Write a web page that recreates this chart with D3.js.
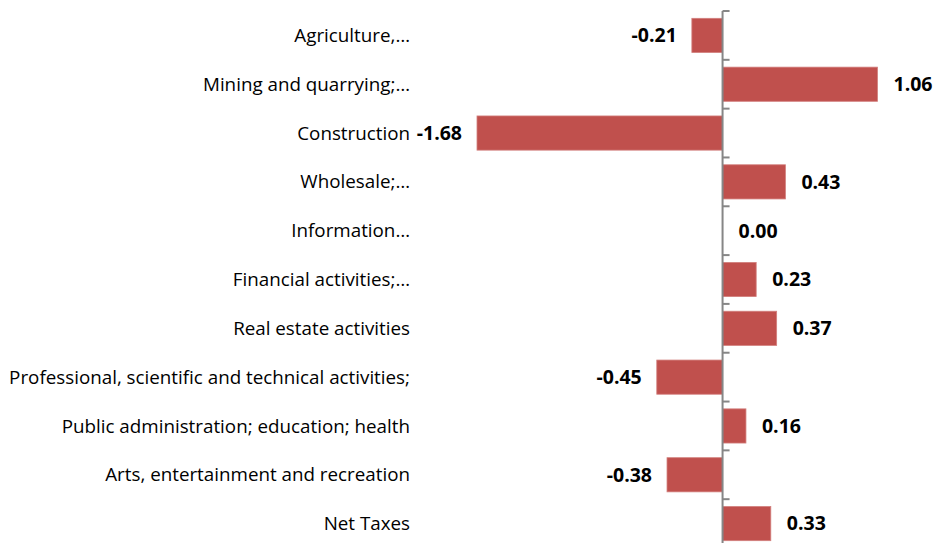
<!DOCTYPE html>
<html><head><meta charset="utf-8">
<script src="https://cdn.jsdelivr.net/npm/d3@7"></script>
<style>body{margin:0;background:#fff}svg{display:block}</style>
</head><body>
<script>
const categories = ["Agriculture,…","Mining and quarrying;…","Construction","Wholesale;…","Information…","Financial activities;…","Real estate activities","Professional, scientific and technical activities;","Public administration; education; health","Arts, entertainment and recreation","Net Taxes"];
const values = [-0.21,1.06,-1.68,0.43,0.00,0.23,0.37,-0.45,0.16,-0.38,0.33];

const W=935,H=543;
const svg=d3.select("body").append("svg").attr("width",W).attr("height",H);
const x=d3.scaleLinear().domain([-1.68,1.06]).range([477,877.5]);
const y=d3.scaleBand().domain(categories).range([11,548]).paddingInner(0.3).paddingOuter(0.15);
const font="'Open Sans', sans-serif";

svg.selectAll("rect.bar").data(values).join("rect").attr("class","bar")
  .attr("x",d=>x(Math.min(0,d))).attr("width",d=>Math.abs(x(d)-x(0)))
  .attr("y",(d,i)=>y(categories[i])).attr("height",y.bandwidth())
  .attr("fill","#C0504D").attr("stroke","#D27F7D").attr("stroke-width",0.8);

// axis
const x0=x(0);
const axis=d3.axisRight(y).tickSize(0).tickFormat("");
const ag=svg.append("g").attr("transform",`translate(${x0},0)`).call(axis);
ag.select(".domain").attr("stroke","#868686").attr("stroke-width",2).attr("d",`M0,11V${H}`);
const bounds=d3.range(categories.length).map(i=>11+i*(537/11));
svg.selectAll("line.tk").data(bounds).join("line").attr("class","tk")
  .attr("x1",x0).attr("x2",x0+7).attr("y1",d=>d).attr("y2",d=>d)
  .attr("stroke","#868686").attr("stroke-width",2);

// category labels
svg.selectAll("text.cat").data(categories).join("text").attr("class","cat")
  .attr("x",410).attr("y",d=>y(d)+y.bandwidth()/2).attr("dy","0.35em")
  .attr("text-anchor","end").attr("font-family",font).attr("font-size",18.8).attr("fill","#000")
  .text(d=>d);

// value labels
svg.selectAll("text.val").data(values).join("text").attr("class","val")
  .attr("x",d=>d<0?x(d)-15:x(d)+16)
  .attr("y",(d,i)=>y(categories[i])+y.bandwidth()/2).attr("dy","0.35em")
  .attr("text-anchor",d=>d<0?"end":"start")
  .attr("font-family",font).attr("font-size",19.5).attr("font-weight","bold").attr("fill","#000")
  .text(d=>d.toFixed(2));
</script>
</body></html>
